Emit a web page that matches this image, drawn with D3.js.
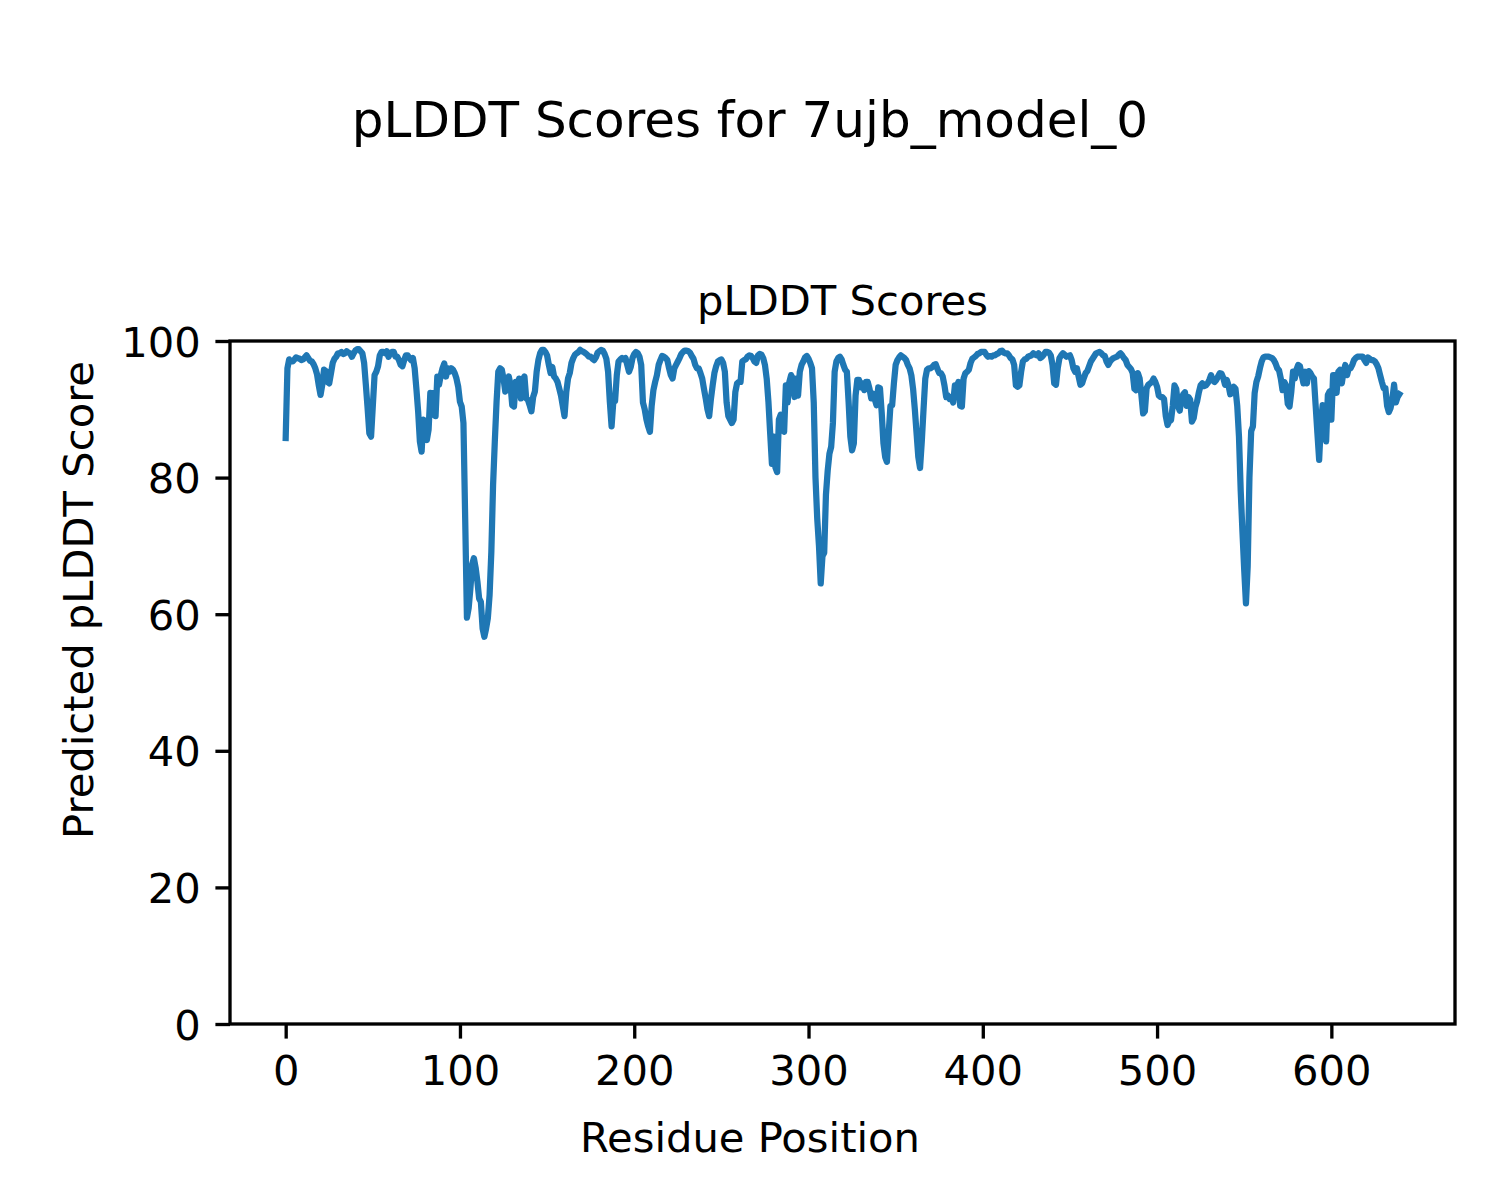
<!DOCTYPE html>
<html lang="en">
  <head>
    <meta charset="UTF-8" />
    <title>pLDDT Scores</title>
    <style>
      body { margin: 0; background: #fff; }
      text { font-family: "DejaVu Sans", sans-serif; fill: #000; }
    </style>
  </head>
  <body>
    <svg id="svg" width="1500" height="1200"></svg>

    <script src="https://cdn.jsdelivr.net/npm/d3@7"></script>
    <script>
      // per-residue pLDDT
      const plddt = [
        85.8, 96.0, 97.3, 97.0, 97.0, 97.3, 97.6, 97.5, 97.4, 97.2,
        97.3, 97.6, 97.9, 97.5, 97.1, 97.0, 96.6, 96.0, 95.1, 93.5,
        92.1, 93.6, 95.8, 95.6, 94.0, 93.8, 95.3, 96.8, 97.4, 97.7,
        98.2, 98.2, 98.4, 98.1, 98.2, 98.5, 98.3, 98.2, 97.7, 98.2,
        98.6, 98.8, 98.8, 98.5, 98.2, 96.8, 93.6, 90.2, 86.5, 86.0,
        90.5, 95.0, 95.5, 96.3, 97.9, 98.4, 98.4, 98.2, 98.5, 97.7,
        98.2, 98.4, 98.4, 97.7, 97.7, 97.2, 96.5, 96.3, 97.2, 97.9,
        97.9, 97.5, 97.2, 97.5, 96.0, 93.0, 89.7, 85.3, 83.8, 88.5,
        86.5, 85.5, 87.0, 92.4, 89.2, 92.4, 89.0, 94.8, 93.6, 95.0,
        96.0, 96.7, 94.8, 96.0, 95.5, 96.0, 95.8, 95.3, 94.5, 93.3,
        91.1, 90.4, 88.0, 74.0, 59.5, 60.9, 63.8, 67.3, 68.2, 66.8,
        64.8, 62.3, 61.8, 57.9, 56.7, 57.9, 59.4, 62.8, 69.1, 78.9,
        85.3, 91.1, 95.5, 96.0, 95.8, 94.5, 92.6, 94.0, 94.8, 93.6,
        90.6, 90.4, 94.0, 92.3, 94.5, 91.6, 94.3, 94.8, 91.6, 91.4,
        90.6, 89.7, 91.8, 92.6, 95.5, 97.2, 98.2, 98.7, 98.7, 98.4,
        97.9, 96.5, 95.3, 96.2, 94.8, 94.5, 94.0, 93.0, 92.0, 90.5,
        89.0, 92.5, 94.5, 95.3, 96.8, 97.5, 98.0, 98.2, 98.4, 98.7,
        98.5, 98.4, 98.2, 98.0, 97.7, 97.7, 97.4, 97.2, 97.6, 98.3,
        98.5, 98.7, 98.6, 98.1, 97.4, 95.5, 91.1, 87.5, 91.1, 91.2,
        95.0, 97.0, 97.3, 97.5, 97.3, 97.5, 96.5, 95.5, 96.2, 97.5,
        98.1, 98.4, 98.2, 97.7, 96.5, 91.0, 90.0, 88.5, 87.5, 86.7,
        90.5, 92.8, 94.0, 95.0, 96.5, 97.2, 97.8, 97.7, 97.5, 97.2,
        96.0, 95.0, 94.5, 96.0, 96.5, 97.0, 97.5, 98.1, 98.4, 98.6,
        98.6, 98.5, 98.3, 97.8, 97.4, 96.5, 96.0, 96.0, 95.3, 94.5,
        93.0, 91.6, 90.0, 89.0, 91.5, 93.5, 95.3, 96.3, 97.0, 97.2,
        97.3, 96.8, 95.5, 91.0, 89.0, 88.5, 88.0, 88.5, 92.5, 93.8,
        94.0, 94.0, 97.0, 97.2, 97.3, 97.7, 97.9, 97.8, 97.5, 97.0,
        96.8, 97.9, 98.1, 98.0, 97.5, 96.5, 94.5, 91.1, 86.5, 82.0,
        86.0, 81.5, 80.8, 88.5, 89.2, 88.5, 86.7, 93.5, 91.0, 94.0,
        95.0, 94.5, 91.8, 94.5, 92.0, 95.5, 96.5, 97.0, 97.6, 97.8,
        97.4, 96.8, 96.0, 91.0, 80.0, 74.0, 70.0, 64.5, 68.5, 69.0,
        77.5, 81.0, 83.5, 84.5, 88.0, 95.5, 97.0, 97.5, 97.7, 97.3,
        96.5, 95.8, 95.5, 91.1, 86.0, 84.0, 85.0, 92.0, 94.3, 94.3,
        93.2, 93.8, 92.8, 94.0, 94.0, 93.0, 91.6, 92.3, 91.5, 90.6,
        93.2, 93.1, 89.5, 85.0, 83.0, 82.3, 86.5, 90.5, 90.6, 93.8,
        96.5, 97.2, 97.6, 97.9, 97.7, 97.5, 97.2, 96.5, 96.0, 95.0,
        93.0, 90.0, 86.5, 83.0, 81.4, 85.3, 90.0, 94.5, 95.8, 96.0,
        96.0, 96.2, 96.5, 96.6, 95.9, 95.3, 95.3, 94.8, 93.5, 91.8,
        92.0, 91.5, 91.8, 91.0, 93.5, 93.3, 94.0, 90.5, 90.4, 94.5,
        95.3, 95.5, 95.8, 96.8, 97.4, 97.6, 97.8, 98.1, 98.2, 98.4,
        98.4, 98.4, 98.0, 97.7, 97.8, 97.7, 97.9, 97.9, 98.1, 98.2,
        98.5, 98.6, 98.3, 98.2, 98.2, 97.9, 97.5, 97.3, 96.5, 93.5,
        93.3, 93.5, 95.5, 97.0, 97.3, 97.4, 97.7, 97.8, 97.9, 98.2,
        98.0, 97.9, 98.2, 97.5, 97.7, 98.0, 98.4, 98.4, 98.3, 97.9,
        96.5, 93.8, 93.6, 96.0, 97.5, 97.9, 98.2, 98.0, 97.7, 97.8,
        97.9, 97.2, 96.0, 95.5, 96.0, 94.8, 93.6, 93.8, 94.6, 95.3,
        95.6, 96.3, 97.0, 97.4, 97.8, 98.2, 98.3, 98.4, 98.2, 97.9,
        97.8, 97.0, 96.5, 97.0, 97.3, 97.5, 97.6, 97.7, 98.0, 98.2,
        97.9, 97.5, 97.2, 96.5, 96.2, 95.9, 95.3, 93.0, 92.8, 95.3,
        94.5, 92.1, 89.4, 89.7, 93.1, 93.6, 93.8, 94.0, 94.5, 94.0,
        93.3, 92.0, 91.8, 91.8, 91.5, 89.0, 87.7, 88.3, 88.4, 90.5,
        93.5, 93.0, 90.5, 89.8, 91.5, 92.2, 92.5, 90.5, 91.8, 91.4,
        88.2, 88.7, 90.3, 91.2, 92.5, 93.5, 93.8, 93.4, 93.5, 93.8,
        94.3, 95.0, 94.2, 94.0, 94.3, 94.8, 95.3, 95.2, 94.6, 93.6,
        94.3, 93.5, 92.2, 93.0, 93.3, 93.0, 90.5, 86.0, 78.0, 72.0,
        66.5, 61.6, 67.0, 80.0, 86.8, 87.5, 92.4, 94.0, 94.8, 96.0,
        97.0, 97.6, 97.7, 97.7, 97.7, 97.6, 97.5, 97.2, 96.7, 96.0,
        95.7, 94.5, 92.8, 94.0, 93.5, 90.8, 90.4, 92.5, 95.5, 94.5,
        95.8, 96.5, 96.3, 95.0, 93.8, 95.5, 93.8, 95.6, 95.3, 94.8,
        94.5, 90.5, 86.5, 82.6, 88.0, 90.6, 87.0, 85.3, 92.1, 92.6,
        88.5, 95.0, 95.0, 92.4, 95.5, 95.8, 93.8, 95.5, 96.5, 95.0,
        96.0, 96.0, 96.5, 97.2, 97.5, 97.7, 97.7, 97.7, 97.7, 97.2,
        96.8, 97.6, 97.4, 97.2, 97.2, 97.0, 96.6, 96.0, 95.0, 94.0,
        93.1, 93.1, 90.5, 89.6, 90.2, 91.5, 93.6, 91.0, 91.8, 92.2,
      ];
      const xTicks = [0, 100, 200, 300, 400, 500, 600];
      const yTicks = [0, 20, 40, 60, 80, 100];
      const figTitle = "pLDDT Scores for 7ujb_model_0";
      const axTitle = "pLDDT Scores";
      const xLabel = "Residue Position";
      const yLabel = "Predicted pLDDT Score";

      const plotLeft = 230, plotRight = 1455, plotTop = 341, plotBottom = 1024;
      const n = plddt.length;
      const pad = (n - 1) * 0.05;

      const xScale = d3.scaleLinear().domain([-pad, n - 1 + pad]).range([plotLeft, plotRight]);
      const yScale = d3.scaleLinear().domain([0, 100]).range([plotBottom, plotTop]);

      const svg = d3.select("#svg");
      svg.append("rect").attr("width", 1500).attr("height", 1200).attr("fill", "#fff");

      const line = d3
        .line()
        .x((d, i) => xScale(i))
        .y((d) => yScale(d));

      svg
        .append("path")
        .datum(plddt)
        .attr("d", line)
        .attr("fill", "none")
        .attr("stroke", "#1f77b4")
        .attr("stroke-width", 6.25)
        .attr("stroke-linejoin", "round")
        .attr("stroke-linecap", "square");

      // axes
      const xAxis = svg
        .append("g")
        .attr("transform", `translate(0,${plotBottom})`)
        .call(d3.axisBottom(xScale).tickValues(xTicks).tickSize(14.6).tickPadding(14.6).tickFormat(d3.format("d")));
      const yAxis = svg
        .append("g")
        .attr("transform", `translate(${plotLeft},0)`)
        .call(d3.axisLeft(yScale).tickValues(yTicks).tickSize(14.6).tickPadding(14.6).tickFormat(d3.format("d")));

      [xAxis, yAxis].forEach((g) => {
        g.select(".domain").remove();
        g.selectAll(".tick line").attr("stroke", "#000").attr("stroke-width", 3.33);
        g.selectAll(".tick text")
          .attr("font-family", "DejaVu Sans")
          .attr("font-size", 41.67)
          .attr("fill", "#000");
      });
      xAxis.selectAll(".tick text").attr("dy", "0.76em");
      yAxis.selectAll(".tick text").attr("dy", "0.36em");

      // frame
      svg
        .append("rect")
        .attr("x", plotLeft)
        .attr("y", plotTop)
        .attr("width", plotRight - plotLeft)
        .attr("height", plotBottom - plotTop)
        .attr("fill", "none")
        .attr("stroke", "#000")
        .attr("stroke-width", 3.33);

      // texts
      svg.append("text").attr("x", 750).attr("y", 137).attr("text-anchor", "middle")
        .attr("font-size", 50).text(figTitle);
      svg.append("text").attr("x", (plotLeft + plotRight) / 2).attr("y", 315).attr("text-anchor", "middle")
        .attr("font-size", 41.67).text(axTitle);
      svg.append("text").attr("x", 750).attr("y", 1152).attr("text-anchor", "middle")
        .attr("font-size", 41.67).text(xLabel);
      svg.append("text").attr("transform", "translate(93,600) rotate(-90)").attr("text-anchor", "middle")
        .attr("font-size", 41.67).text(yLabel);
    </script>
  </body>
</html>
